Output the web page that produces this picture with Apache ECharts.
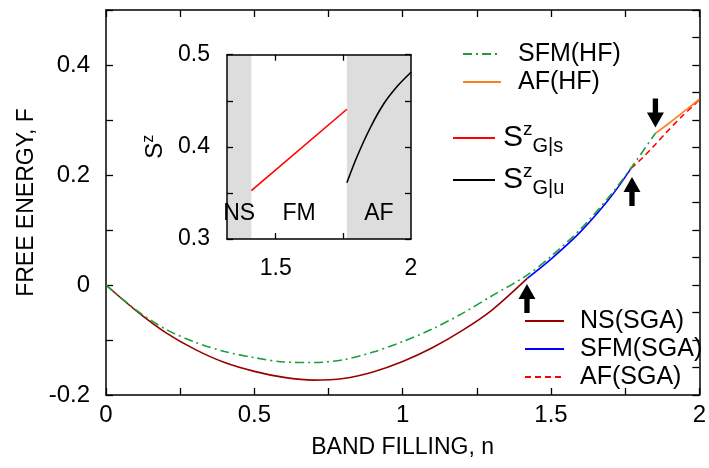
<!DOCTYPE html>
<html><head><meta charset="utf-8">
<script src="https://cdn.jsdelivr.net/npm/echarts@6/dist/echarts.min.js"></script>
<style>html,body{margin:0;padding:0;background:#fff}#c{width:709px;height:468px}</style>
</head><body><div id="c"></div>
<script>
// ---- main panel data: band filling n vs free energy F ----
const nsN  = [0, 0.1, 0.2, 0.3, 0.4, 0.5, 0.6, 0.7, 0.8, 0.9, 1.0, 1.1, 1.2, 1.3, 1.42];
const nsF  = [0, -0.046, -0.086, -0.117, -0.141, -0.157, -0.168, -0.173, -0.170, -0.158, -0.139, -0.114, -0.083, -0.046, 0.012];
const sfmHfN = [0, 0.1, 0.2, 0.3, 0.4, 0.5, 0.6, 0.7, 0.8, 0.9, 1.0, 1.1, 1.2, 1.3, 1.42, 1.5, 1.6, 1.7, 1.774, 1.852];
const sfmHfF = [0, -0.045, -0.080, -0.104, -0.121, -0.132, -0.140, -0.141, -0.136, -0.122, -0.103, -0.080, -0.052, -0.020, 0.018, 0.052, 0.102, 0.163, 0.216, 0.276];
const afHfN  = [1.852, 1.9, 1.94, 1.98, 2.0];
const afHfF  = [0.2755, 0.295, 0.312, 0.329, 0.338];
const sfmSgaN = [1.42, 1.5, 1.6, 1.7, 1.77];
const sfmSgaF = [0.012, 0.047, 0.097, 0.159, 0.212];
const afSgaN  = [1.77, 1.81, 1.85, 1.89, 1.94, 1.98, 2.0];
const afSgaF  = [0.212, 0.232, 0.2545, 0.278, 0.306, 0.326, 0.337];
// arrows marking the transitions (n, F of arrow centre)
const arrowsUp   = [[1.419, -0.0245], [1.773, 0.17]];
const arrowsDown = [[1.852, 0.3127]];
// ---- inset data: S^z vs n ----
const szGsN = [1.41, 1.763];
const szGsV = [0.3525, 0.4408];
const szGuN = [1.763, 1.8, 1.85, 1.9, 1.95, 2.0];
const szGuV = [0.361, 0.389, 0.421, 0.447, 0.466, 0.481];
const insetPhases = [
  {name: 'NS', from: 1.32, to: 1.41, shaded: true},
  {name: 'FM', from: 1.41, to: 1.763, shaded: false},
  {name: 'AF', from: 1.763, to: 2.0, shaded: true}
];
const mainXTicks = [0, 0.5, 1, 1.5, 2];
const insetXTicks = [1.5, 1.75];
const insetXLabels = [1.5, 2];

const zip = (a, b) => a.map((v, i) => [v, b[i]]);
const FONT = '"Liberation Sans", Arial, Helvetica, sans-serif';
const black = '#000';
const axLine = {show: true, onZero: false, lineStyle: {color: black, width: 1.5}};
const tick = (len, extra) => Object.assign({show: true, inside: true, length: len, lineStyle: {color: black, width: 1.3}}, extra || {});
const upArrow = 'path://M8,0 L16,15 L10.5,15 L10.5,29 L5.5,29 L5.5,15 L0,15 Z';
const downArrow = 'path://M5.5,0 L10.5,0 L10.5,14 L16,14 L8,29 L0,14 L5.5,14 Z';

const chart = echarts.init(document.getElementById('c'), null, {renderer: 'canvas'});
const richS = {
  s: {fontSize: 30, lineHeight: 36, fontFamily: FONT, color: black},
  sup: {fontSize: 19, lineHeight: 18, verticalAlign: 'top', fontFamily: FONT, color: black},
  sub: {fontSize: 20, lineHeight: 18, verticalAlign: 'bottom', fontFamily: FONT, color: black}
};
const legendCommon = {orient: 'vertical', itemHeight: 14, selectedMode: false, padding: 0,
  itemStyle: {opacity: 0}};
const option = {
  animation: false,
  backgroundColor: '#fff',
  textStyle: {fontFamily: FONT, color: black},
  grid: [
    {left: 106, right: 3, top: 10, height: 385, containLabel: false},
    {left: 227, right: 298, top: 54.7, height: 184.3}
  ],
  xAxis: [
    {gridIndex: 0, type: 'value', min: 0, max: 2, interval: 0.25, position: 'bottom',
     axisLine: axLine, axisTick: tick(7), splitLine: {show: false},
     axisLabel: {margin: 8, fontSize: 24, color: black, fontFamily: FONT,
       formatter: v => mainXTicks.some(t => Math.abs(t - v) < 1e-6) ? String(Math.round(v * 10) / 10) : ''},
     name: 'BAND FILLING, n', nameLocation: 'middle', nameGap: 41,
     nameTextStyle: {fontSize: 23, color: black, fontFamily: FONT}},
    {gridIndex: 0, type: 'value', min: 0, max: 2, interval: 0.25, position: 'top',
     axisLine: axLine, axisTick: tick(7), axisLabel: {show: false}, splitLine: {show: false}},
    {gridIndex: 1, type: 'value', min: 1.32, max: 2, position: 'bottom', z: 6,
     axisLine: axLine, axisTick: tick(6, {customValues: insetXTicks}), splitLine: {show: false},
     axisLabel: {customValues: insetXLabels, margin: 18, fontSize: 23, color: black, fontFamily: FONT,
       formatter: v => String(Math.round(v * 10) / 10)}},
    {gridIndex: 1, type: 'value', min: 1.32, max: 2, position: 'top', z: 6,
     axisLine: axLine, axisTick: tick(6, {customValues: insetXTicks}), axisLabel: {show: false}, splitLine: {show: false}}
  ],
  yAxis: [
    {gridIndex: 0, type: 'value', min: -0.2, max: 0.5, interval: 0.1, position: 'left',
     axisLine: axLine, axisTick: tick(7), splitLine: {show: false},
     axisLabel: {margin: 16, fontSize: 24, color: black, fontFamily: FONT,
       formatter: v => (Math.round(v * 10) % 2 === 0) ? String(Math.round(v * 10) / 10) : ''},
     name: 'FREE ENERGY, F', nameLocation: 'middle', nameGap: 63,
     nameTextStyle: {fontSize: 23, color: black, fontFamily: FONT}},
    {gridIndex: 0, type: 'value', min: -0.2, max: 0.5, interval: 0.05, position: 'right',
     axisLine: axLine, axisTick: tick(7), axisLabel: {show: false}, splitLine: {show: false}},
    {gridIndex: 1, type: 'value', min: 0.3, max: 0.5, interval: 0.05, position: 'left', z: 6,
     axisLine: axLine, axisTick: tick(6), splitLine: {show: false},
     axisLabel: {margin: 17, fontSize: 23, color: black, fontFamily: FONT,
       formatter: v => (Math.round(v * 100) % 10 === 0) ? (Math.round(v * 10) / 10).toFixed(1) : ''},
     name: '{s|S}{z|z}', nameLocation: 'middle', nameGap: 58,
     nameTextStyle: {rich: {s: {fontSize: 24, fontFamily: FONT, color: black, lineHeight: 28},
                            z: {fontSize: 16, fontFamily: FONT, color: black, verticalAlign: 'top', lineHeight: 16}}}},
    {gridIndex: 1, type: 'value', min: 0.3, max: 0.5, interval: 0.05, position: 'right', z: 6,
     axisLine: axLine, axisTick: tick(6), axisLabel: {show: false}, splitLine: {show: false}}
  ],
  legend: [
    Object.assign({}, legendCommon, {data: ['SFM(HF)', 'AF(HF)'], left: 462, top: 40, itemWidth: 38, itemGap: 0,
     textStyle: {fontSize: 25, lineHeight: 28, fontFamily: FONT, color: black, padding: [0, 0, 0, 12]}}),
    Object.assign({}, legendCommon, {data: ['S^z_G|s', 'S^z_G|u'], left: 452, top: 120, itemWidth: 42, itemGap: 6,
     formatter: name => '{s|S}{sup|z}{sub|' + name.split('_')[1] + '}',
     textStyle: {fontFamily: FONT, color: black, padding: [0, 0, 0, 3], rich: richS}}),
    Object.assign({}, legendCommon, {data: ['NS(SGA)', 'SFM(SGA)', 'AF(SGA)'], left: 524, top: 307, itemWidth: 39, itemGap: 0,
     textStyle: {fontSize: 25, lineHeight: 28, fontFamily: FONT, color: black, padding: [0, 0, 0, 11]}})
  ],
  series: [
    {name: 'NS(SGA)', type: 'line', xAxisIndex: 0, yAxisIndex: 0, data: zip(nsN, nsF), smooth: 0.3,
     symbol: 'none', lineStyle: {color: '#990000', width: 1.6}, itemStyle: {color: '#990000'}},
    {name: 'SFM(SGA)', type: 'line', xAxisIndex: 0, yAxisIndex: 0, data: zip(sfmSgaN, sfmSgaF), smooth: 0.3,
     symbol: 'none', lineStyle: {color: '#0000ff', width: 1.6}, itemStyle: {color: '#0000ff'}},
    {name: 'AF(SGA)', type: 'line', xAxisIndex: 0, yAxisIndex: 0, data: zip(afSgaN, afSgaF), smooth: 0.3,
     symbol: 'none', lineStyle: {color: '#ff0000', width: 1.6, type: [6, 4]}, itemStyle: {color: '#ff0000'}},
    {name: 'AF(HF)', type: 'line', xAxisIndex: 0, yAxisIndex: 0, data: zip(afHfN, afHfF), smooth: 0.3,
     symbol: 'none', lineStyle: {color: '#ff7f1e', width: 1.6}, itemStyle: {color: '#ff7f1e'}},
    {name: 'SFM(HF)', type: 'line', xAxisIndex: 0, yAxisIndex: 0, data: zip(sfmHfN, sfmHfF), smooth: 0.3,
     symbol: 'none', lineStyle: {color: '#1e9e3a', width: 1.6, type: [9, 4, 2, 4]}, itemStyle: {color: '#1e9e3a'}},
    {name: 'arrowsUp', type: 'scatter', xAxisIndex: 0, yAxisIndex: 0, data: arrowsUp, symbol: upArrow,
     symbolSize: [17, 29], itemStyle: {color: black, opacity: 1}, silent: true, z: 5},
    {name: 'arrowsDown', type: 'scatter', xAxisIndex: 0, yAxisIndex: 0, data: arrowsDown, symbol: downArrow,
     symbolSize: [17, 29], itemStyle: {color: black, opacity: 1}, silent: true, z: 5},
    {name: 'S^z_G|s', type: 'line', xAxisIndex: 2, yAxisIndex: 2, data: zip(szGsN, szGsV), symbol: 'none', z: 4,
     lineStyle: {color: '#ff0000', width: 1.6}, itemStyle: {color: '#ff0000'},
     markArea: {silent: true, z: 1,
       label: {show: true, position: 'insideBottom', distance: 14, fontSize: 23, color: black, fontFamily: FONT},
       data: insetPhases.map(p => [{name: p.name, xAxis: p.from,
         itemStyle: {color: p.shaded ? '#dddddd' : 'rgba(0,0,0,0)', opacity: 1}}, {xAxis: p.to}])}},
    {name: 'S^z_G|u', type: 'line', xAxisIndex: 2, yAxisIndex: 2, data: zip(szGuN, szGuV), smooth: 0.3, symbol: 'none', z: 4,
     lineStyle: {color: '#000000', width: 1.6}, itemStyle: {color: '#000000'}}
  ]
};
chart.setOption(option);
</script></body></html>
